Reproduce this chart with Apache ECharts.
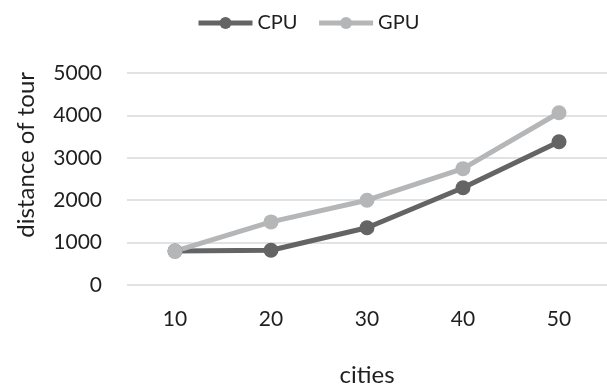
<!DOCTYPE html>
<html><head><meta charset="utf-8">
<script src="https://cdn.jsdelivr.net/npm/echarts@6/dist/echarts.min.js"></script>
<style>html,body{margin:0;padding:0;background:#fff}#c{width:607px;height:392px}</style>
</head><body><div id="c"></div>
<script>
const categories = ['10', '20', '30', '40', '50'];
const cpuValues = [800, 820, 1350, 2295, 3380];
const gpuValues = [800, 1488, 2000, 2744, 4063];
const yTicks = [0, 1000, 2000, 3000, 4000, 5000];

const FONT = 'Lato';
const TXT = '#1f1f1f';
const chart = echarts.init(document.getElementById('c'), null, {renderer: 'canvas'});
chart.setOption({
  backgroundColor: '#fff',
  animation: false,
  textStyle: {fontFamily: FONT},
  legend: {
    left: 191, top: 8,
    itemWidth: 54, itemHeight: 15, itemGap: 19, itemTextGap: 4,
    lineStyle: {width: 5},
    textStyle: {fontFamily: FONT, fontSize: 20, color: TXT},
    data: ['CPU', 'GPU']
  },
  grid: {left: 127, top: 73, width: 485, height: 215, containLabel: false},
  xAxis: {
    type: 'category', data: categories, boundaryGap: true,
    axisLine: {show: false}, axisTick: {show: false},
    axisLabel: {fontFamily: FONT, fontSize: 21, color: TXT, margin: 24},
    name: 'cities', nameLocation: 'middle', nameGap: 78,
    nameTextStyle: {fontFamily: FONT, fontSize: 24, color: TXT}
  },
  yAxis: {
    type: 'value', min: yTicks[0], max: yTicks[yTicks.length - 1], interval: 1000,
    axisLine: {show: false}, axisTick: {show: false},
    splitLine: {lineStyle: {color: '#d9d9d9', width: 1.5}},
    axisLabel: {fontFamily: FONT, fontSize: 21, color: TXT, margin: 25,
      formatter: function (v) { return String(v); }}
  },
  graphic: [{
    type: 'text', left: 14, top: 72, rotation: Math.PI / 2,
    style: {text: 'distance of tour', font: '24px ' + FONT, fill: TXT}
  }],
  series: [
    {
      name: 'CPU', type: 'line', data: cpuValues,
      symbol: 'circle', symbolSize: 15,
      lineStyle: {color: '#646464', width: 5},
      itemStyle: {color: '#646464'}
    },
    {
      name: 'GPU', type: 'line', data: gpuValues,
      symbol: 'circle', symbolSize: 15,
      lineStyle: {color: '#b5b6b8', width: 5},
      itemStyle: {color: '#b5b6b8'}
    }
  ]
});
</script></body></html>
